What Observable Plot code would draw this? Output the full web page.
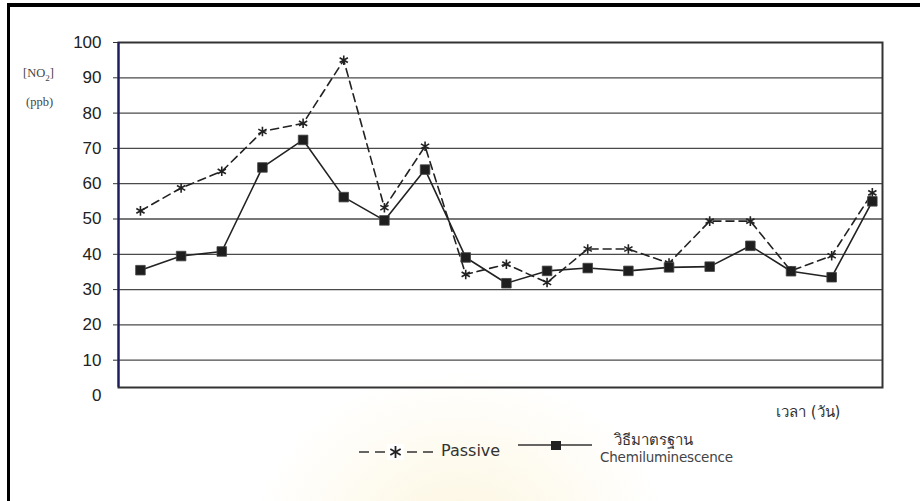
<!DOCTYPE html>
<html>
<head>
<meta charset="utf-8">
<script src="https://cdn.jsdelivr.net/npm/d3@7"></script>
<script src="https://cdn.jsdelivr.net/npm/@observablehq/plot@0.6"></script>
<style>
  html, body { margin: 0; padding: 0; background: #fff; }
  body { width: 920px; height: 501px; overflow: hidden; position: relative;
         font-family: "Liberation Sans", Arial, sans-serif; }
  #border { position: absolute; left: 7px; top: 3px; width: 930px; height: 520px;
            border-top: 4px solid #000; border-left: 3px solid #000; }
  #glow { position: absolute; left: 250px; top: 370px; width: 420px; height: 200px;
          background: radial-gradient(ellipse at 50% 85%, rgba(250,238,196,0.55), rgba(250,238,196,0) 70%); }
  #chart { position: absolute; left: 0; top: 0; }
  .lab { position: absolute; color: #444; white-space: nowrap; }
  #ylab1 { left: 23px; top: 66px; font: 12.5px "Liberation Serif", serif; }
  #ylab2 { left: 26px; top: 95px; font: 12.5px "Liberation Serif", serif; }
  #xlab { left: 776px; top: 400px; font: 15px "DejaVu Sans", sans-serif; color: #333; }
  #leg1txt { left: 441px; top: 441px; font: 16px "DejaVu Sans", sans-serif; color: #333; }
  #leg2th { left: 614px; top: 428px; font: 15px "DejaVu Sans", sans-serif; color: #333; }
  #leg2en { left: 600px; top: 449px; font: 13.5px "DejaVu Sans", sans-serif; color: #444; letter-spacing: -0.2px; }
  .sw { position: absolute; }
</style>
</head>
<body>
<div id="glow"></div>
<div id="chart"></div>
<div id="border"></div>
<div class="lab" id="ylab1">[NO<sub style="font-size:9px">2</sub>]</div>
<div class="lab" id="ylab2">(ppb)</div>
<div class="lab" id="xlab">เวลา (วัน)</div>

<svg class="sw" style="left:355px;top:440px" width="82" height="24">
  <line x1="4" x2="80" y1="12" y2="12" stroke="#333" stroke-width="1.6" stroke-dasharray="10,6"/>
  <rect x="32" y="4" width="17" height="16" fill="#fff"/>
  <g stroke="#222" stroke-width="1.8" transform="translate(40.5,12)">
    <line x1="0" y1="-6" x2="0" y2="6"/>
    <line x1="-5.2" y1="-3" x2="5.2" y2="3"/>
    <line x1="-5.2" y1="3" x2="5.2" y2="-3"/>
  </g>
</svg>
<div class="lab" id="leg1txt">Passive</div>

<svg class="sw" style="left:515px;top:433px" width="80" height="24">
  <line x1="3" x2="77" y1="12" y2="12" stroke="#333" stroke-width="1.6"/>
  <rect x="36" y="8" width="10" height="9" fill="#222"/>
</svg>
<div class="lab" id="leg2th">วิธีมาตรฐาน</div>
<div class="lab" id="leg2en">Chemiluminescence</div>

<script>
// Measurement days (x positions along the category axis)
const days = d3.range(1, 20);

// NO2 concentration (ppb) from passive samplers
const passive = [52.3, 58.8, 63.5, 74.8, 77.1, 95.0, 53.2, 70.6, 34.3, 37.2,
                 32.0, 41.5, 41.5, 37.5, 49.4, 49.4, 35.3, 39.6, 57.4];

// NO2 concentration (ppb) from the standard chemiluminescence method
const chemi = [35.5, 39.5, 40.8, 64.6, 72.4, 56.2, 49.6, 64.0, 39.1, 31.8,
               35.3, 36.1, 35.3, 36.3, 36.5, 42.4, 35.2, 33.5, 55.0];

// Axis labels and gridlines
const yTickValues = [0, 10, 20, 30, 40, 50, 60, 70, 80, 90, 100];
const gridValues = [10, 20, 30, 40, 50, 60, 70, 80, 90];

const rows = days.map((d, i) => ({day: d, passive: passive[i], chemi: chemi[i]}));
const xDomain = [0.46, 19.25];

// Tick labels for every value; tick marks only where a gridline meets the axis
const axisMarks = Plot.axisY
  ? [
      Plot.axisY(yTickValues, {tickSize: 0, tickPadding: 17, label: null}),
      Plot.axisY(gridValues.concat([100]), {tickSize: 5, text: null, label: null, stroke: "#333"})
    ]
  : [];

const chart = Plot.plot({
  width: 920,
  height: 501,
  marginLeft: 118,
  marginRight: 38,
  marginTop: 42,
  marginBottom: 114,
  style: {background: "transparent", fontFamily: "Liberation Sans, Arial, sans-serif", fontSize: "17px", color: "#222"},
  x: {domain: xDomain, axis: null},
  y: Plot.axisY
    ? {domain: [0, 100], range: [395, 42]}
    : {domain: [0, 100], range: [395, 42], ticks: 10, tickSize: 5, tickPadding: 12, label: null},
  marks: [
    Plot.ruleY(gridValues, {stroke: "#4a4a4a", strokeWidth: 1.3}),
    Plot.frame({stroke: "#333", strokeWidth: 2}),
    Plot.ruleX([xDomain[0]], {stroke: "#1d1d5e", strokeWidth: 2}),
    ...axisMarks,
    Plot.line(rows, {x: "day", y: "passive", stroke: "#222", strokeWidth: 1.6, strokeDasharray: "8,5"}),
    Plot.line(rows, {x: "day", y: "chemi", stroke: "#222", strokeWidth: 1.6}),
    Plot.dot(rows, {x: "day", y: "passive", symbol: "asterisk", r: 4.5, stroke: "#222", strokeWidth: 1.6}),
    Plot.dot(rows, {x: "day", y: "chemi", symbol: "square", r: 5.4, fill: "#1e1e1e", stroke: "#444", strokeWidth: 0.8})
  ]
});
document.getElementById("chart").appendChild(chart);
</script>
</body>
</html>
